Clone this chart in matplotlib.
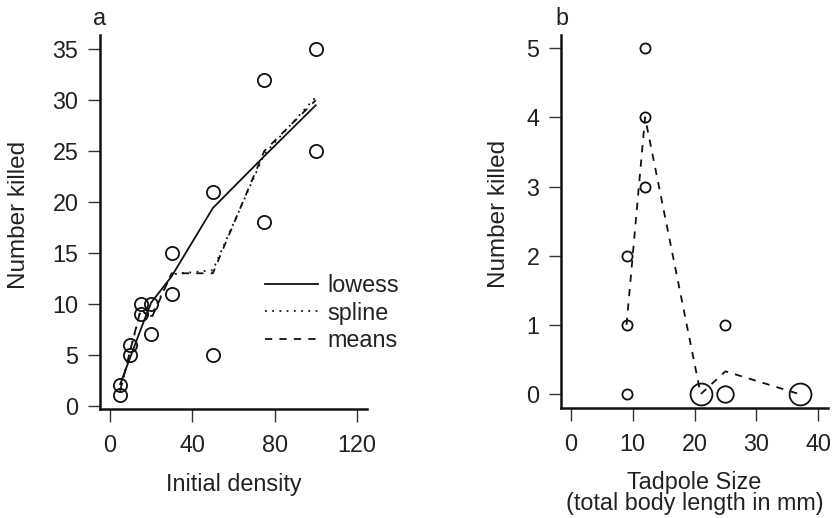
import numpy as np
import matplotlib
matplotlib.use("Agg")
import matplotlib.pyplot as plt

plt.rcParams['font.family'] = ['Liberation Sans', 'DejaVu Sans']

# ---- Panel a data: functional response ----
initial = [5, 5, 10, 10, 15, 15, 20, 20, 30, 30, 50, 50, 75, 75, 100, 100]
killed = [1, 2, 5, 6, 10, 9, 7, 10, 11, 15, 5, 21, 32, 18, 25, 35]
dens_levels = [5, 10, 15, 20, 30, 50, 75, 100]
lowess_vals = [2.1, 4.8, 7.5, 10.1, 12.7, 19.4, 24.5, 29.5]
spline_vals = [1.4, 5.5, 9.3, 8.8, 12.9, 13.3, 24.7, 30.3]
means_vals = [1.5, 5.5, 9.5, 8.5, 13.0, 13.0, 25.0, 30.0]

# ---- Panel b data: size predation ----
size_levels = [9, 12, 21, 25, 37]
size_x = [9, 9, 9, 12, 12, 12, 21, 25, 25, 37]
size_y = [0, 1, 2, 3, 4, 5, 0, 0, 1, 0]
size_n = [1, 1, 1, 1, 1, 1, 3, 2, 1, 3]
size_means = [1.0, 4.0, 0.0, 0.33, 0.0]

W, H = 833, 518
fig = plt.figure(figsize=(W / 100, H / 100), dpi=100)

def px_axes(x0, y0, x1, y1):
    return fig.add_axes([x0 / W, 1 - y1 / H, (x1 - x0) / W, (y1 - y0) / H])

FS = 16.8
FS_Y = 17.5
LW = 1.3
TXT = '#222222'
INK = '#111111'

def style(ax):
    for s in ['top', 'right']:
        ax.spines[s].set_visible(False)
    for s in ['left', 'bottom']:
        ax.spines[s].set_linewidth(1.8)
        ax.spines[s].set_color(INK)
    ax.tick_params(direction='out', length=9, width=1.0, labelsize=FS,
                   colors='#333333', labelcolor=TXT)
    ax.tick_params(axis='x', pad=9)
    ax.tick_params(axis='y', pad=6.5)

# Panel a
axa = px_axes(100, 35, 367, 409)
style(axa)
axa.plot(initial, killed, 'o', mfc='none', mec=INK, ms=9.5, mew=1.3,
         zorder=3)
axa.plot(dens_levels, lowess_vals, '-', color=INK, lw=LW, label='lowess')
axa.plot(dens_levels, spline_vals, color=INK, lw=LW,
         linestyle=(0, (1, 3)), label='spline')
axa.plot(dens_levels, means_vals, color=INK, lw=LW,
         linestyle=(0, (4, 4)), label='means')
axa.set_xlim(-4.8, 124.9)
axa.set_ylim(-0.33, 36.4)
axa.set_xticks([0, 40, 80, 120])
axa.set_yticks([0, 5, 10, 15, 20, 25, 30, 35])
axa.set_xlabel('Initial density', fontsize=FS, color=TXT)
axa.xaxis.set_label_coords(0.5, -0.172)
axa.set_ylabel('Number killed', fontsize=FS_Y, color=TXT)
axa.yaxis.set_label_coords(-0.262, 0.52)
axa.text(-0.026, 1.027, 'a', transform=axa.transAxes, fontsize=FS,
         color=TXT, ha='left', va='baseline')
leg = axa.legend(loc='upper left', bbox_to_anchor=(0.618, 0.361),
                 frameon=False, fontsize=FS, handlelength=2.27,
                 handletextpad=0.4, labelspacing=0.2, borderpad=0,
                 borderaxespad=0)
for t in leg.get_texts():
    t.set_color(TXT)

# Panel b
axb = px_axes(561, 35, 828, 408)
style(axb)
for xv, yv, n in zip(size_x, size_y, size_n):
    ms = 7.3 * n ** 0.7
    axb.plot([xv], [yv], 'o', mfc='none', mec=INK, ms=ms, mew=1.3,
             zorder=3)
axb.plot(size_levels, size_means, color=INK, lw=LW,
         linestyle=(0, (4, 4)))
axb.set_xlim(-1.6, 41.6)
axb.set_ylim(-0.2, 5.19)
axb.set_xticks([0, 10, 20, 30, 40])
axb.set_yticks([0, 1, 2, 3, 4, 5])
axb.set_xlabel('Tadpole Size\n(total body length in mm)', fontsize=FS,
               color=TXT, linespacing=0.92)
axb.xaxis.set_label_coords(0.5, -0.168)
axb.set_ylabel('Number killed', fontsize=FS_Y, color=TXT)
axb.yaxis.set_label_coords(-0.191, 0.52)
axb.text(-0.022, 1.027, 'b', transform=axb.transAxes, fontsize=FS,
         color=TXT, ha='left', va='baseline')

fig.savefig('out.png', dpi=100)
